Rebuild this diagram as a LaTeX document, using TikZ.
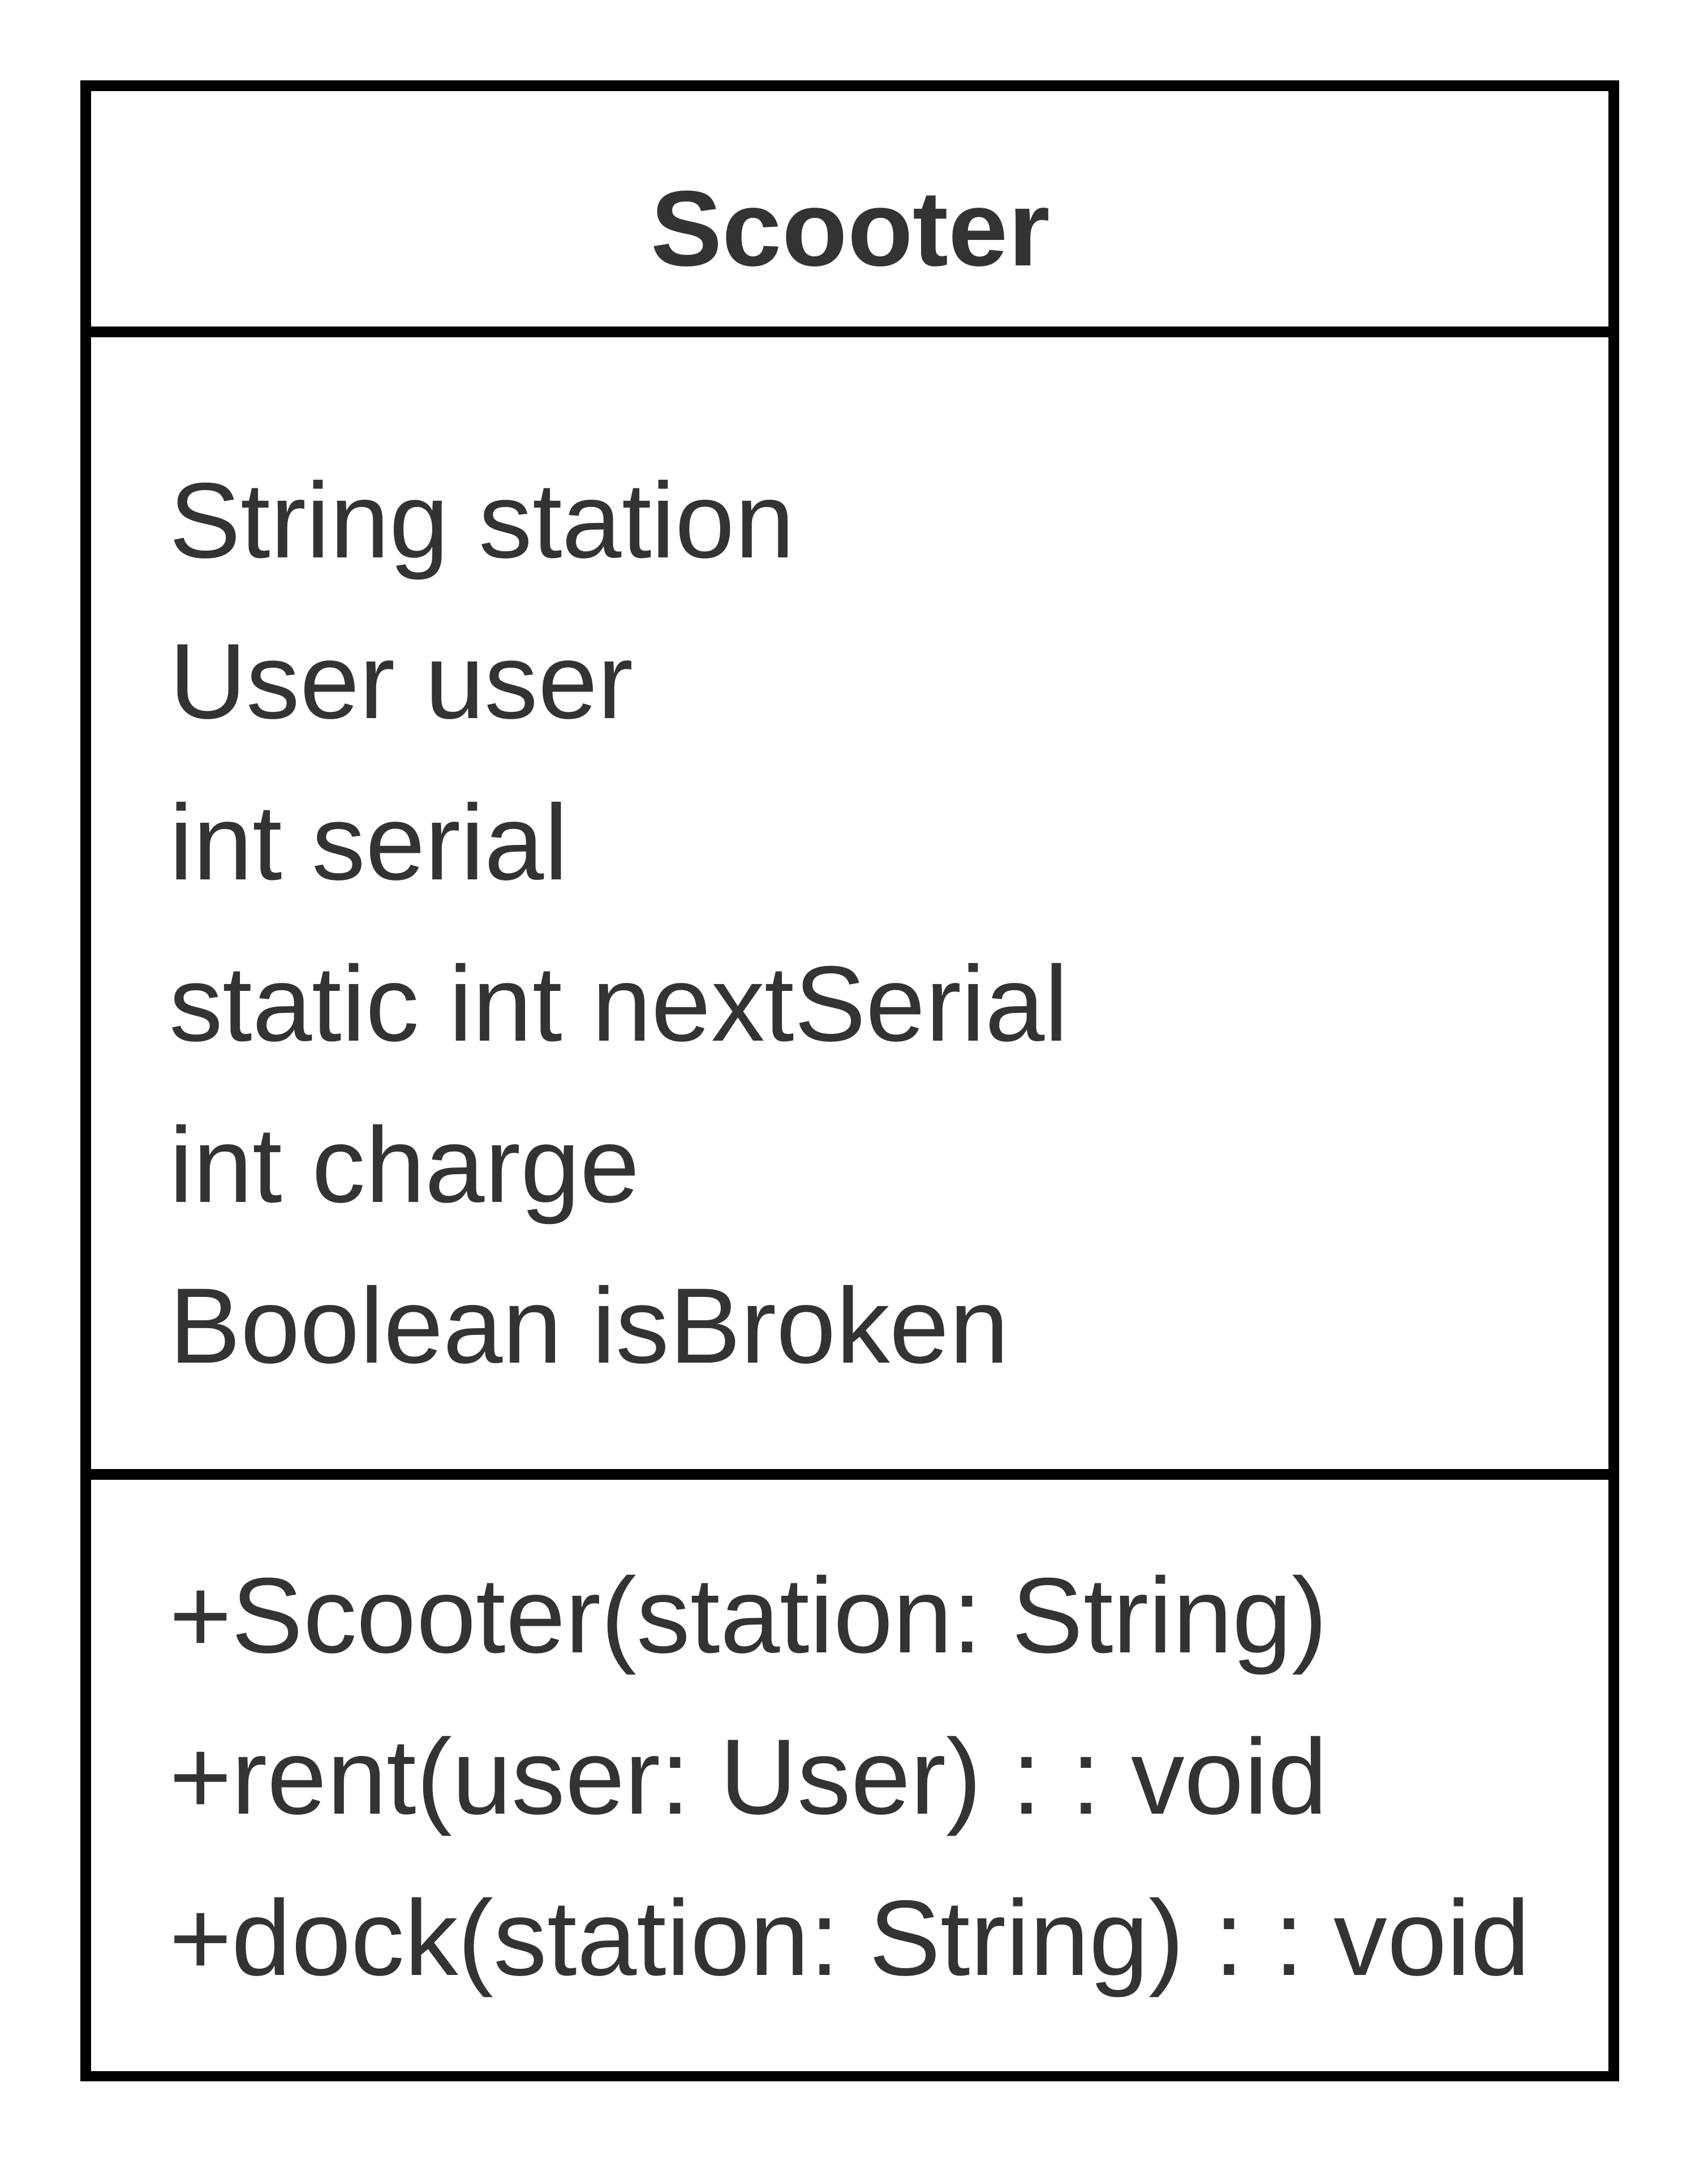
\documentclass[tikz,border=0pt]{standalone}
\usepackage{fontspec}
\setmainfont{Liberation Sans}
\frenchspacing
\definecolor{txtgray}{RGB}{51,51,51}
\tikzset{
  umltext/.style={anchor=base west,inner sep=0pt,text=txtgray,font=\fontsize{38.75}{46}\selectfont},
  umltitle/.style={anchor=base,inner sep=0pt,text=txtgray,font=\fontsize{38.75}{46}\selectfont\bfseries},
}
\begin{document}
\begin{tikzpicture}[x=0.5pt,y=0.5pt,yscale=-1,xscale=1]
\useasboundingbox (0,0) rectangle (1235,1571);

%Shape: Rectangle
\draw  [line width=3.8pt, line join=miter]  (62,62) rectangle (1167,1501) ;
%Straight Lines
\coordinate (hl) at (62,240);
\coordinate (hr) at (1167,240);
\draw [line width=3.8pt]  (hl) -- (hr) ;
%Straight Lines
\coordinate (al) at (62,1066);
\coordinate (ar) at (1167,1066);
\draw [line width=3.8pt]  (al) -- (ar) ;

% Text Node
\node [umltitle] (title) at (615,192) {Scooter};
% Text Node
\node [umltext] (attrA) at (122,403) {String station};
% Text Node
\node [umltext] (attrB) at (122,519.5) {User user};
% Text Node
\node [umltext] (attrC) at (122,636) {int serial};
% Text Node
\node [umltext] (attrD) at (122,752.5) {static int nextSerial};
% Text Node
\node [umltext] (attrE) at (122,869) {int charge};
% Text Node
\node [umltext] (attrF) at (122,985.5) {Boolean isBroken};
% Text Node
\node [umltext] (opA) at (122,1195) {+Scooter(station: String)};
% Text Node
\node [umltext] (opB) at (122,1311.5) {+rent(user: User) : : void};
% Text Node
\node [umltext] (opC) at (122,1428) {+dock(station: String) : : void};

\end{tikzpicture}
\end{document}
